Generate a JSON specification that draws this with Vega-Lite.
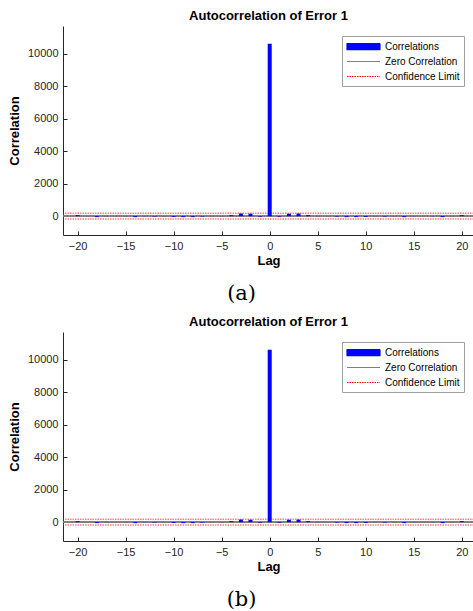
{
  "$schema": "https://vega.github.io/schema/vega-lite/v6.json",
  "padding": {"left": 8, "top": 10, "right": 0, "bottom": 0},
  "background": "white",
  "config": {
    "view": {"stroke": null},
    "font": "Liberation Sans",
    "axis": {
      "grid": false,
      "domainColor": "#262626",
      "tickColor": "#262626",
      "labelColor": "#262626",
      "titleColor": "#000000",
      "labelFont": "Liberation Sans",
      "titleFont": "Liberation Sans",
      "labelFontSize": 11,
      "titleFontSize": 13,
      "titleFontWeight": "bold",
      "tickSize": -4,
      "labelPadding": 9,
      "domainWidth": 1
    },
    "title": {"font": "Liberation Sans", "fontSize": 13, "fontWeight": "bold", "color": "#000000"}
  },
  "datasets": {
    "acf": [
      {"lag": -20, "corr": 60}, {"lag": -19, "corr": 5}, {"lag": -18, "corr": -60}, {"lag": -17, "corr": -10},
      {"lag": -16, "corr": 5}, {"lag": -15, "corr": 10}, {"lag": -14, "corr": -60}, {"lag": -13, "corr": 10},
      {"lag": -12, "corr": -30}, {"lag": -11, "corr": 10}, {"lag": -10, "corr": -50}, {"lag": -9, "corr": -60},
      {"lag": -8, "corr": -60}, {"lag": -7, "corr": -30}, {"lag": -6, "corr": 5}, {"lag": -5, "corr": 10},
      {"lag": -4, "corr": 60}, {"lag": -3, "corr": 160}, {"lag": -2, "corr": 150}, {"lag": -1, "corr": -40},
      {"lag": 0, "corr": 10610},
      {"lag": 1, "corr": -40}, {"lag": 2, "corr": 150}, {"lag": 3, "corr": 160}, {"lag": 4, "corr": 60},
      {"lag": 5, "corr": 10}, {"lag": 6, "corr": 5}, {"lag": 7, "corr": -30}, {"lag": 8, "corr": -60},
      {"lag": 9, "corr": -60}, {"lag": 10, "corr": -50}, {"lag": 11, "corr": 10}, {"lag": 12, "corr": -30},
      {"lag": 13, "corr": 10}, {"lag": 14, "corr": -60}, {"lag": 15, "corr": 10}, {"lag": 16, "corr": 5},
      {"lag": 17, "corr": -10}, {"lag": 18, "corr": -60}, {"lag": 19, "corr": 5}, {"lag": 20, "corr": 60}
    ],
    "limits": [{"limit": 180}, {"limit": -180}]
  },
  "resolve": {"scale": {"color": "independent"}, "legend": {"color": "independent"}},
  "spacing": 12,
  "vconcat": [
    {
      "title": {"text": "(a)", "orient": "bottom", "anchor": "middle", "font": "DejaVu Serif", "fontSize": 21, "fontWeight": "normal", "offset": 16},
      "resolve": {"scale": {"color": "independent"}, "legend": {"color": "independent"}},
      "vconcat": [
        {
          "title": {"text": "Autocorrelation of Error 1", "offset": 3},
          "width": 411,
          "height": 209,
          "layer": [
            {
              "data": {"name": "limits"},
              "mark": {"type": "rule", "strokeDash": [1.5, 1], "strokeWidth": 1.5, "opacity": 0.5},
              "encoding": {
                "y": {"field": "limit", "type": "quantitative"},
                "color": {"datum": "Confidence Limit"}
              }
            },
            {
              "data": {"name": "acf"},
              "mark": {"type": "rule", "color": "#808080", "strokeWidth": 1},
              "encoding": {
                "y": {"datum": 0},
                "color": {"datum": "Zero Correlation"}
              }
            },
            {
              "data": {"name": "acf"},
              "mark": {"type": "bar", "size": 4},
              "encoding": {
                "x": {"field": "lag", "type": "quantitative", "scale": {"domain": [-21, 20.75], "nice": false, "zero": false},
                  "axis": {"title": "Lag", "values": [-20, -15, -10, -5, 0, 5, 10, 15, 20], "titlePadding": 3}},
                "y": {"field": "corr", "type": "quantitative", "scale": {"domain": [-1160, 11700], "nice": false, "zero": false},
                  "axis": {"title": "Correlation", "format": "d", "values": [0, 2000, 4000, 6000, 8000, 10000], "titlePadding": 6}},
                "y2": {"datum": 0},
                "color": {
                  "datum": "Correlations",
                  "scale": {"domain": ["Correlations", "Zero Correlation", "Confidence Limit"], "range": ["#0000ff", "#808080", "#ff0000"]},
                  "legend": {
                    "title": null, "orient": "top-right", "offset": 10,
                    "strokeColor": "#a0a0a0", "fillColor": "white", "padding": 4,
                    "labelFont": "Liberation Sans", "labelFontSize": 10, "labelColor": "#000000",
                    "symbolType": "M-1,0H5", "symbolSize": 121, "labelOffset": 26, "rowPadding": 3,
                    "encode": {"symbols": {"update": {
                      "shape": {"signal": "datum.value === 'Correlations' ? 'M-1,-0.55H5V0.55H-1Z' : 'M-1,0H5'"},
                      "stroke": {"signal": "datum.value === 'Correlations' ? '#0000ff' : datum.value === 'Zero Correlation' ? '#808080' : '#ff5050'"},
                      "fill": {"signal": "datum.value === 'Correlations' ? '#0000ff' : 'transparent'"},
                      "opacity": {"value": 1},
                      "strokeOpacity": {"value": 1},
                      "strokeJoin": {"value": "round"},
                      "strokeWidth": {"value": 1.2},
                      "strokeDash": {"signal": "datum.value === 'Confidence Limit' ? [1.5, 1] : [1, 0]"}
                    }}}
                  }
                }
              }
            }
          ]
        }
      ]
    },
    {
      "title": {"text": "(b)", "orient": "bottom", "anchor": "middle", "font": "DejaVu Serif", "fontSize": 21, "fontWeight": "normal", "offset": 16},
      "resolve": {"scale": {"color": "independent"}, "legend": {"color": "independent"}},
      "vconcat": [
        {
          "title": {"text": "Autocorrelation of Error 1", "offset": 3},
          "width": 411,
          "height": 209,
          "layer": [
            {
              "data": {"name": "limits"},
              "mark": {"type": "rule", "strokeDash": [1.5, 1], "strokeWidth": 1.5, "opacity": 0.5},
              "encoding": {
                "y": {"field": "limit", "type": "quantitative"},
                "color": {"datum": "Confidence Limit"}
              }
            },
            {
              "data": {"name": "acf"},
              "mark": {"type": "rule", "color": "#808080", "strokeWidth": 1},
              "encoding": {
                "y": {"datum": 0},
                "color": {"datum": "Zero Correlation"}
              }
            },
            {
              "data": {"name": "acf"},
              "mark": {"type": "bar", "size": 4},
              "encoding": {
                "x": {"field": "lag", "type": "quantitative", "scale": {"domain": [-21, 20.75], "nice": false, "zero": false},
                  "axis": {"title": "Lag", "values": [-20, -15, -10, -5, 0, 5, 10, 15, 20], "titlePadding": 3}},
                "y": {"field": "corr", "type": "quantitative", "scale": {"domain": [-1160, 11700], "nice": false, "zero": false},
                  "axis": {"title": "Correlation", "format": "d", "values": [0, 2000, 4000, 6000, 8000, 10000], "titlePadding": 6}},
                "y2": {"datum": 0},
                "color": {
                  "datum": "Correlations",
                  "scale": {"domain": ["Correlations", "Zero Correlation", "Confidence Limit"], "range": ["#0000ff", "#808080", "#ff0000"]},
                  "legend": {
                    "title": null, "orient": "top-right", "offset": 10,
                    "strokeColor": "#a0a0a0", "fillColor": "white", "padding": 4,
                    "labelFont": "Liberation Sans", "labelFontSize": 10, "labelColor": "#000000",
                    "symbolType": "M-1,0H5", "symbolSize": 121, "labelOffset": 26, "rowPadding": 3,
                    "encode": {"symbols": {"update": {
                      "shape": {"signal": "datum.value === 'Correlations' ? 'M-1,-0.55H5V0.55H-1Z' : 'M-1,0H5'"},
                      "stroke": {"signal": "datum.value === 'Correlations' ? '#0000ff' : datum.value === 'Zero Correlation' ? '#808080' : '#ff5050'"},
                      "fill": {"signal": "datum.value === 'Correlations' ? '#0000ff' : 'transparent'"},
                      "opacity": {"value": 1},
                      "strokeOpacity": {"value": 1},
                      "strokeJoin": {"value": "round"},
                      "strokeWidth": {"value": 1.2},
                      "strokeDash": {"signal": "datum.value === 'Confidence Limit' ? [1.5, 1] : [1, 0]"}
                    }}}
                  }
                }
              }
            }
          ]
        }
      ]
    }
  ]
}
